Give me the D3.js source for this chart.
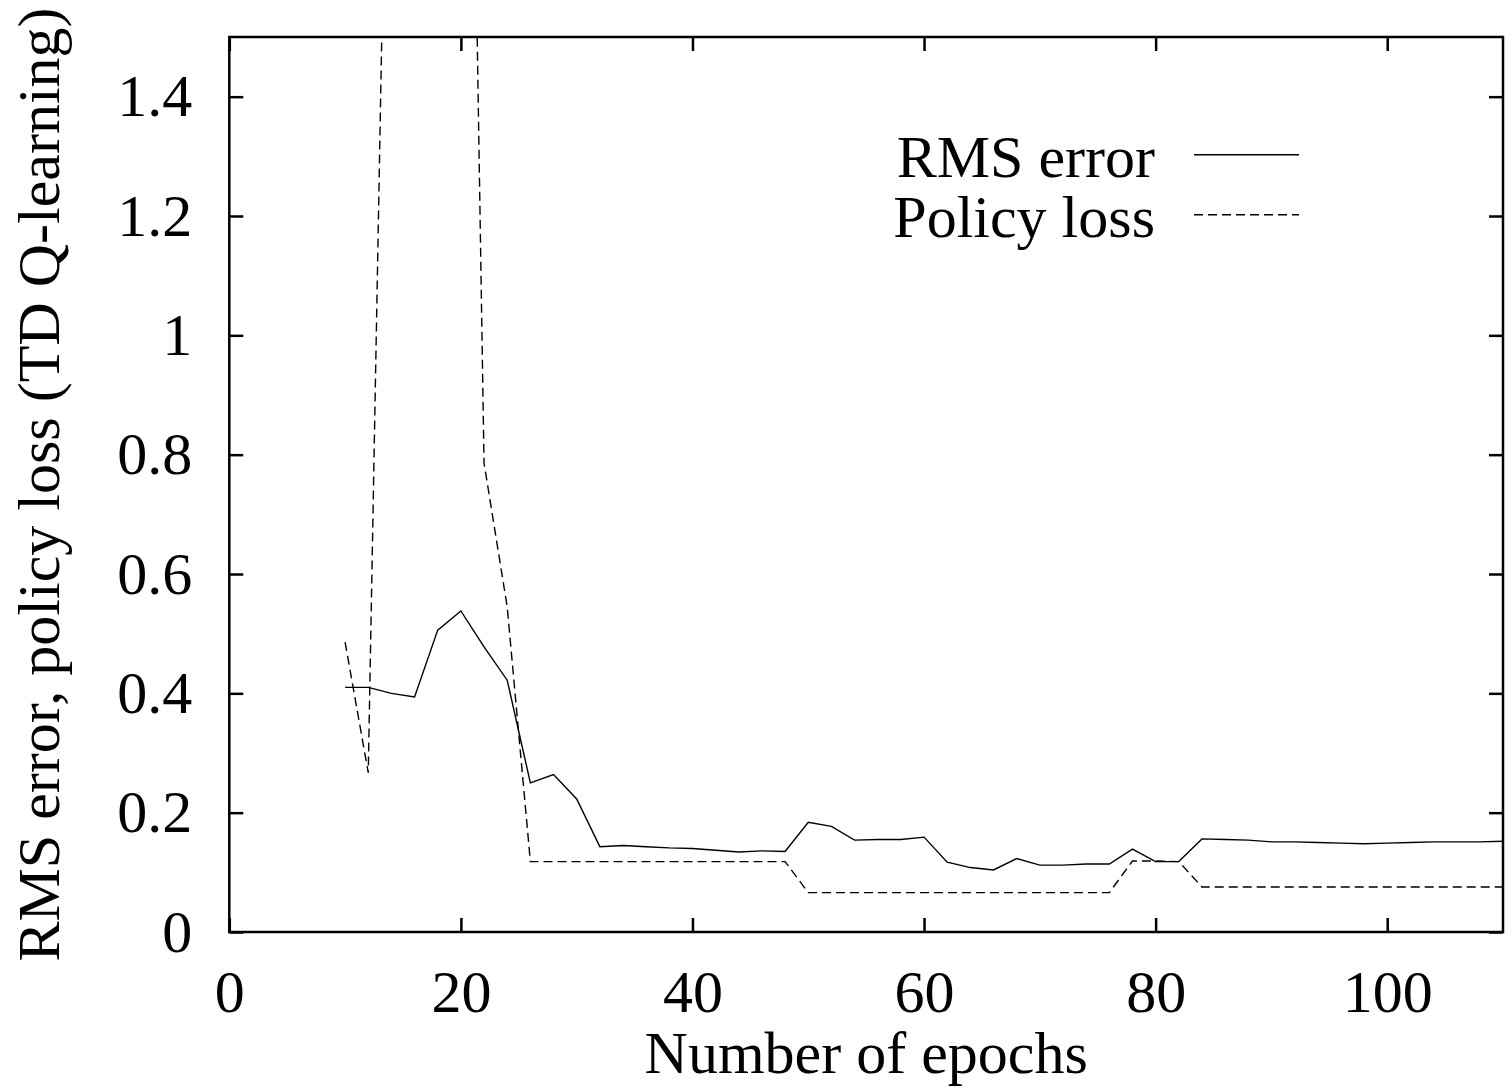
<!DOCTYPE html>
<html>
<head>
<meta charset="utf-8">
<script src="https://cdn.jsdelivr.net/npm/d3@7"></script>
<style>
  body { margin: 0; background: #fff; }
  svg text { font-family: "Liberation Serif", "Times New Roman", serif; fill: #000; }
</style>
</head>
<body>
<script>

// epochs sampled every 2
var epochs = [10, 12, 14, 16, 18, 20, 22, 24, 26, 28, 30, 32, 34, 36, 38, 40, 42, 44, 46, 48,
              50, 52, 54, 56, 58, 60, 62, 64, 66, 68, 70, 72, 74, 76, 78, 80, 82, 84, 86, 88,
              90, 92, 94, 96, 98, 100, 102, 104, 106, 108, 110];

var rmsError = [0.41, 0.41, 0.40, 0.394, 0.506, 0.538, 0.478, 0.422, 0.25, 0.264,
                0.223, 0.143, 0.145, 0.143, 0.141, 0.140, 0.137, 0.134, 0.136, 0.135,
                0.184, 0.177, 0.154, 0.155, 0.155, 0.159, 0.117, 0.108, 0.104, 0.123,
                0.112, 0.112, 0.114, 0.114, 0.139, 0.118, 0.118, 0.156, 0.155, 0.154,
                0.151, 0.151, 0.150, 0.149, 0.148, 0.149, 0.150, 0.151, 0.151, 0.151, 0.152];

var policyLoss = [0.486, 0.267, 2.38, 3.0, 3.3, 3.2, 0.786, 0.545, 0.118, 0.118,
                  0.118, 0.118, 0.118, 0.118, 0.118, 0.118, 0.118, 0.118, 0.118, 0.118,
                  0.066, 0.066, 0.066, 0.066, 0.066, 0.066, 0.066, 0.066, 0.066, 0.066,
                  0.066, 0.066, 0.066, 0.066, 0.119, 0.119, 0.118, 0.0755, 0.0755, 0.0755,
                  0.0755, 0.0755, 0.0755, 0.0755, 0.0755, 0.0755, 0.0755, 0.0755, 0.0755, 0.0755, 0.0755];

var xTicks = [0, 20, 40, 60, 80, 100];
var yTicks = [0, 0.2, 0.4, 0.6, 0.8, 1, 1.2, 1.4];

var seriesNames = ["RMS error", "Policy loss"];

var width = 1512;
var height = 1088;
var plotLeft = 229.3, plotRight = 1503, plotTop = 37, plotBottom = 932;

var svg = d3.select("body").append("svg")
	.attr("width", width)
	.attr("height", height);

var x = d3.scaleLinear().domain([0, 110]).range([plotLeft, plotRight]);
var y = d3.scaleLinear().domain([0, 1.5]).range([plotBottom, plotTop]);

svg.append("clipPath").attr("id", "plotclip")
	.append("rect")
	.attr("x", plotLeft).attr("y", plotTop)
	.attr("width", plotRight - plotLeft).attr("height", plotBottom - plotTop);

// axes with inward ticks, gnuplot style
var fontSize = 60;

svg.append("g")
	.attr("transform", "translate(0," + plotBottom + ")")
	.call(d3.axisBottom(x).tickValues(xTicks).tickSizeInner(-14).tickSizeOuter(0).tickPadding(37)
		.tickFormat(d3.format("d")));

svg.append("g")
	.attr("transform", "translate(" + plotLeft + ",0)")
	.call(d3.axisLeft(y).tickValues(yTicks).tickSizeInner(-14).tickSizeOuter(0).tickPadding(37)
		.tickFormat(function(d){ return String(d); }));

// mirror ticks on top and right
svg.append("g")
	.attr("transform", "translate(0," + plotTop + ")")
	.call(d3.axisTop(x).tickValues(xTicks).tickSizeInner(-14).tickSizeOuter(0).tickFormat(""));

svg.append("g")
	.attr("transform", "translate(" + plotRight + ",0)")
	.call(d3.axisRight(y).tickValues(yTicks).tickSizeInner(-14).tickSizeOuter(0).tickFormat(""));

svg.selectAll(".domain").remove();
svg.selectAll(".tick line").attr("stroke", "#000").attr("stroke-width", 2.5);
svg.selectAll(".tick text")
	.style("font-size", fontSize + "px")
	.style("font-family", "'Liberation Serif', serif");

svg.append("rect")
	.attr("x", plotLeft).attr("y", plotTop)
	.attr("width", plotRight - plotLeft).attr("height", plotBottom - plotTop)
	.attr("fill", "none")
	.attr("stroke", "#000")
	.attr("stroke-width", 2.5);

// lines
var line = d3.line()
	.x(function(d){ return x(d[0]); })
	.y(function(d){ return y(d[1]); });

var rmsData = epochs.map(function(e, i){ return [e, rmsError[i]]; });
var polData = epochs.map(function(e, i){ return [e, policyLoss[i]]; });

var plot = svg.append("g").attr("clip-path", "url(#plotclip)");

plot.append("path")
	.attr("d", line(rmsData))
	.attr("fill", "none")
	.attr("stroke", "#000")
	.attr("stroke-width", 1.4);

plot.append("path")
	.attr("d", line(polData))
	.attr("fill", "none")
	.attr("stroke", "#000")
	.attr("stroke-width", 1.4)
	.attr("stroke-dasharray", "9,5");

// legend
var legend = svg.append("g");
var dashes = [null, "9,5"];
seriesNames.forEach(function(name, i){
	var by = 176.7 + i * 60;
	legend.append("text")
		.attr("x", 1155)
		.attr("y", by)
		.attr("text-anchor", "end")
		.style("font-size", fontSize + "px")
		.text(name);
	legend.append("line")
		.attr("x1", 1194).attr("x2", 1299)
		.attr("y1", by - 22).attr("y2", by - 22)
		.attr("stroke", "#000")
		.attr("stroke-width", 1.4)
		.attr("stroke-dasharray", dashes[i]);
});

// axis titles
svg.append("text")
	.attr("x", (plotLeft + plotRight) / 2)
	.attr("y", 1073)
	.attr("text-anchor", "middle")
	.style("font-size", fontSize + "px")
	.text("Number of epochs");

svg.append("text")
	.attr("transform", "translate(59," + ((plotTop + plotBottom) / 2) + ") rotate(-90)")
	.attr("text-anchor", "middle")
	.style("font-size", fontSize + "px")
	.text("RMS error, policy loss (TD Q-learning)");

</script>
</body>
</html>
